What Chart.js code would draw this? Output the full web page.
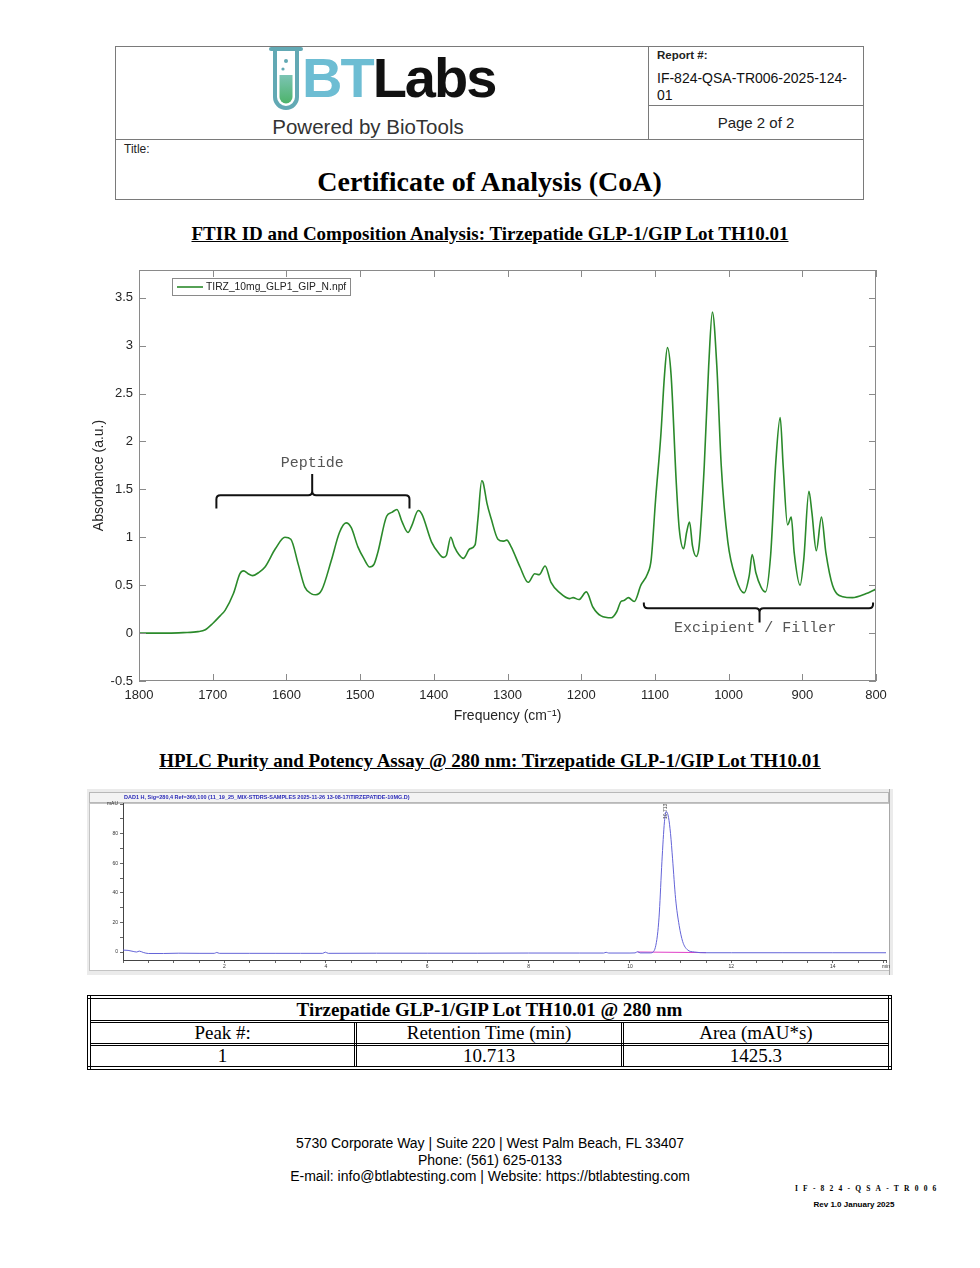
<!DOCTYPE html>
<html lang="en">
<head>
<meta charset="UTF-8" />
<title>Certificate of Analysis (CoA)</title>
<script src="https://cdn.jsdelivr.net/npm/chart.js@4.4.1/dist/chart.umd.min.js"></script>
<style>
  body { margin: 0; background: #fff; }
  #page { position: relative; width: 980px; height: 1268px; overflow: hidden;
          font-family: "Liberation Sans", Arial, sans-serif; color: #000; }
  .abs { position: absolute; }
  .line { position: absolute; background: #7a7a7a; }
  .serif { font-family: "Liberation Serif", "Times New Roman", serif; }
  .sect { left: 0; width: 980px; text-align: center; font-weight: bold; font-size: 19px;
          text-decoration: underline; line-height: 24px; }
  #coaTable { position: absolute; left: 87px; top: 995px; width: 805px; border-collapse: collapse;
              border: 4px double #000; font-family: "Liberation Serif", "Times New Roman", serif;
              font-size: 19px; }
  #coaTable td { border: 3px double #000; text-align: center; height: 20px; line-height: 20px; padding: 0; }
  .foot { left: 0; width: 980px; text-align: center; font-size: 14px; line-height: 16.5px; }
</style>
</head>
<body>
<div id="page">
  <!-- header box -->
  <div class="abs" style="left:115px;top:46px;width:749px;height:154px;border:1px solid #7a7a7a;box-sizing:border-box;"></div>
  <div class="line" style="left:648px;top:46px;width:1px;height:93px;"></div>
  <div class="line" style="left:115px;top:139px;width:749px;height:1px;"></div>
  <div class="line" style="left:648px;top:105px;width:216px;height:1px;"></div>

  <svg class="abs" style="left:268px;top:45px" width="36" height="68" viewBox="0 0 36 68">
    <defs>
      <linearGradient id="liq" x1="0" y1="0" x2="0" y2="1">
        <stop offset="0" stop-color="#7cc4b4" />
        <stop offset="1" stop-color="#4db36a" />
      </linearGradient>
    </defs>
    <path d="M7 4 L7 52 A11 11 0 0 0 29 52 L29 4" fill="none" stroke="#62a9b4" stroke-width="4" />
    <path d="M3 4 L33 4" stroke="#62a9b4" stroke-width="4" stroke-linecap="round" />
    <path d="M11.5 30 L11.5 52 A6.5 6.5 0 0 0 24.5 52 L24.5 30 Z" fill="url(#liq)" />
    <circle cx="18" cy="16" r="2" fill="#62a9b4" />
    <circle cx="15" cy="24" r="1.6" fill="#62a9b4" />
  </svg>
  <div class="abs" style="left:302px;top:50px;font-size:56px;line-height:56px;font-weight:bold;letter-spacing:-2px;white-space:nowrap;">
    <span style="color:#6dbdd3">BT</span><span style="color:#111">Labs</span>
  </div>
  <div class="abs" style="left:268px;top:115px;width:200px;text-align:center;font-size:20.5px;line-height:24px;color:#333;white-space:nowrap;">Powered by BioTools</div>

  <div class="abs" style="left:657px;top:48px;font-size:11.5px;line-height:14px;font-weight:bold;color:#222;">Report #:</div>
  <div class="abs" style="left:657px;top:70px;font-size:14px;line-height:17px;color:#111;">IF-824-QSA-TR006-2025-124-<br>01</div>
  <div class="abs" style="left:648px;top:113px;width:216px;text-align:center;font-size:15px;line-height:20px;color:#222;">Page 2 of 2</div>

  <div class="abs" style="left:124px;top:142px;font-size:12px;line-height:14px;color:#222;">Title:</div>
  <div class="abs serif" style="left:115px;top:165px;width:749px;text-align:center;font-size:28px;line-height:34px;font-weight:bold;">Certificate of Analysis (CoA)</div>

  <div class="abs sect serif" style="top:222px;">FTIR ID and Composition Analysis: Tirzepatide GLP-1/GIP Lot TH10.01</div>

  <canvas id="ftir" class="abs" style="left:80px;top:262px" width="810" height="475"></canvas>

  <div class="abs sect serif" style="top:749px;">HPLC Purity and Potency Assay @ 280 nm: Tirzepatide GLP-1/GIP Lot TH10.01</div>

  <canvas id="hplc" class="abs" style="left:87px;top:789px" width="806" height="186"></canvas>

  <table id="coaTable">
    <tr><td colspan="3" style="font-weight:bold;height:21px;">Tirzepatide GLP-1/GIP Lot TH10.01 @ 280 nm</td></tr>
    <tr><td style="width:33.3%">Peak #:</td><td style="width:33.3%">Retention Time (min)</td><td>Area (mAU*s)</td></tr>
    <tr><td>1</td><td>10.713</td><td>1425.3</td></tr>
  </table>

  <div class="abs foot" style="top:1135px;">5730 Corporate Way | Suite 220 | West Palm Beach, FL 33407<br>Phone: (561) 625-0133<br>E-mail: info@btlabtesting.com | Website: https://btlabtesting.com</div>
  <div class="abs serif" style="left:795px;top:1184px;font-size:7.5px;line-height:10px;font-weight:bold;letter-spacing:5.2px;white-space:nowrap;">IF-824-QSA-TR006</div>
  <div class="abs" style="left:805px;top:1200px;width:98px;text-align:center;font-size:8px;line-height:10px;font-weight:bold;white-space:nowrap;">Rev 1.0 January 2025</div>
</div>

<script>
  // FTIR spectrum (cm-1 / absorbance)
  const ftirWavenumber = [
    1800, 1780, 1760, 1740, 1720, 1710, 1700, 1690, 1683, 1672,
    1663, 1658, 1652, 1646, 1638, 1629, 1615, 1602, 1594, 1584,
    1575, 1566, 1560, 1552, 1539, 1528, 1519, 1512, 1503, 1495,
    1487, 1481, 1476, 1464, 1457, 1450, 1443, 1435, 1430, 1421,
    1416, 1403, 1393, 1387, 1383, 1377, 1372, 1366, 1360, 1351,
    1344, 1340, 1335, 1333, 1328, 1322, 1313, 1306, 1301, 1295,
    1283, 1272, 1263, 1257, 1249, 1241, 1229, 1216, 1211, 1203,
    1193, 1184, 1173, 1159, 1152, 1146, 1142, 1136, 1128, 1119,
    1110, 1105, 1099, 1092, 1087, 1083, 1078, 1071, 1067, 1061,
    1057, 1053, 1049, 1044, 1040, 1033, 1027, 1022, 1016, 1010,
    1001, 990, 979, 972, 968, 963, 956, 950, 943, 936,
    930, 926, 920, 915, 911, 903, 898, 891, 887, 881,
    874, 868, 859, 845, 832, 814, 800
  ]
  const ftirAbsorbance = [
    0.00, 0.00, 0.00, 0.005, 0.015, 0.035, 0.10, 0.18, 0.24, 0.41,
    0.62, 0.65, 0.62, 0.60, 0.63, 0.69, 0.88, 1.00, 0.98, 0.72,
    0.48, 0.41, 0.40, 0.45, 0.76, 1.05, 1.15, 1.10, 0.90, 0.78,
    0.69, 0.72, 0.84, 1.22, 1.26, 1.29, 1.16, 1.05, 1.12, 1.28,
    1.24, 0.95, 0.83, 0.79, 0.81, 1.00, 0.90, 0.82, 0.78, 0.88,
    0.92, 1.20, 1.59, 1.57, 1.36, 1.19, 0.98, 0.96, 0.97, 0.90,
    0.69, 0.53, 0.62, 0.61, 0.70, 0.53, 0.42, 0.36, 0.37, 0.35,
    0.43, 0.27, 0.18, 0.16, 0.22, 0.33, 0.34, 0.37, 0.33, 0.50,
    0.62, 0.77, 1.40, 2.06, 2.69, 2.98, 2.69, 1.57, 1.09, 0.88,
    1.05, 1.16, 0.91, 0.80, 0.91, 1.75, 2.79, 3.35, 2.79, 1.75,
    0.95, 0.57, 0.42, 0.60, 0.82, 0.63, 0.48, 0.43, 0.81, 1.78,
    2.25, 1.75, 1.13, 1.21, 0.84, 0.50, 0.77, 1.48, 1.26, 0.86,
    1.21, 0.84, 0.50, 0.38, 0.37, 0.41, 0.46
  ]
  const ftirLegendLabel = 'TIRZ_10mg_GLP1_GIP_N.npf'
  const ftirXTicks = [800, 900, 1000, 1100, 1200, 1300, 1400, 1500, 1600, 1700, 1800]
  const ftirYTicks = [-0.5, 0, 0.5, 1, 1.5, 2, 2.5, 3, 3.5]

  // HPLC chromatogram @ 280 nm (min / mAU)
  const hplcTime = [
    0, 0.1, 0.2, 0.27, 0.32, 0.4, 0.5, 0.8, 1.1, 1.5,
    1.8, 1.85, 1.9, 2.5, 3.0, 3.5, 3.94, 3.99, 4.05, 5.0,
    6.0, 7.0, 8.0, 9.0, 9.48, 9.53, 9.58, 10.0, 10.1, 10.15,
    10.2, 10.4, 10.47, 10.51, 10.55, 10.58, 10.63, 10.68, 10.713, 10.76,
    10.8, 10.84, 10.9, 10.97, 11.04, 11.13, 11.27, 11.5, 12, 13,
    14, 15.05
  ]
  const hplcSignal = [
    1.3, 1.1, 0.4, 0.0, 0.6, -0.3, -1.0, -1.0, -0.8, -0.9,
    -0.9, -0.3, -0.9, -0.9, -0.9, -0.9, -0.9, -0.1, -0.9, -0.8,
    -0.8, -0.8, -0.7, -0.7, -0.7, -0.2, -0.7, -0.7, -0.6, 0.2,
    -0.6, -0.6, 0.5, 4.5, 14, 27, 61, 88, 95, 91,
    80, 63, 36, 18, 7, 1.6, 0, -0.5, -0.5, -0.5,
    -0.5, -0.5
  ]
  const hplcBaselineTime = [10.15, 11.5]
  const hplcBaselineSignal = [0.0, -0.4]
  const hplcPeakRT = 10.713
  const hplcPeakLabel = '10.713'
  const hplcTitle = 'DAD1 H, Sig=280,4 Ref=360,100 (11_19_25_MIX-STDRS-SAMPLES 2025-11-26 13-08-17\\TIRZEPATIDE-10MG.D)'
  const hplcXTicks = []
  for (let i = 0; i <= 30; i++) hplcXTicks.push(i / 2)
  hplcXTicks.push(15.05)
  const hplcYTicks = [0, 10, 20, 30, 40, 50, 60, 70, 80, 90, 100]

  Chart.defaults.font.family = '"Liberation Sans", Arial, sans-serif'

  function drawBrace(ctx, x1, x2, xm, yLine, yEnd, yTip) {
    const r = 4
    const se = Math.sign(yEnd - yLine)
    const st = Math.sign(yTip - yLine)
    ctx.beginPath()
    ctx.moveTo(x1, yEnd)
    ctx.lineTo(x1, yLine + se * r)
    ctx.quadraticCurveTo(x1, yLine, x1 + r, yLine)
    ctx.lineTo(xm - r, yLine)
    ctx.quadraticCurveTo(xm, yLine, xm, yLine + st * r)
    ctx.lineTo(xm, yTip)
    ctx.moveTo(xm, yLine + st * r)
    ctx.quadraticCurveTo(xm, yLine, xm + r, yLine)
    ctx.lineTo(x2 - r, yLine)
    ctx.quadraticCurveTo(x2, yLine, x2, yLine + se * r)
    ctx.lineTo(x2, yEnd)
    ctx.stroke()
  }

  // no automatic padding for edge labels, so the plot box sits where the layout says
  function noEdgePadding(s) {
    s.paddingTop = 0
    s.paddingBottom = 0
    s.paddingLeft = 0
    s.paddingRight = 0
  }

  const ftirDecor = {
    id: 'ftirDecor',
    afterDatasetsDraw(chart) {
      const { ctx, chartArea: a, scales: { x, y } } = chart
      ctx.save()
      // box with inward ticks on all four sides
      ctx.strokeStyle = '#8a8a8a'
      ctx.lineWidth = 1
      ctx.strokeRect(a.left + 0.5, a.top + 0.5, a.width - 1, a.height - 1)
      const len = 7
      ctx.beginPath()
      ftirXTicks.forEach(v => {
        const px = Math.round(x.getPixelForValue(v)) + 0.5
        ctx.moveTo(px, a.bottom); ctx.lineTo(px, a.bottom - len)
        ctx.moveTo(px, a.top); ctx.lineTo(px, a.top + len)
      })
      ftirYTicks.forEach(v => {
        const py = Math.round(y.getPixelForValue(v)) + 0.5
        ctx.moveTo(a.left, py); ctx.lineTo(a.left + len, py)
        ctx.moveTo(a.right, py); ctx.lineTo(a.right - len, py)
      })
      ctx.stroke()

      // band braces and labels
      ctx.strokeStyle = '#111'
      ctx.lineWidth = 2
      drawBrace(ctx, x.getPixelForValue(1695), x.getPixelForValue(1433), x.getPixelForValue(1565),
        y.getPixelForValue(1.44), y.getPixelForValue(1.30), y.getPixelForValue(1.66))
      drawBrace(ctx, x.getPixelForValue(1115), x.getPixelForValue(804), x.getPixelForValue(958),
        y.getPixelForValue(0.26), y.getPixelForValue(0.32), y.getPixelForValue(0.11))
      ctx.fillStyle = '#555'
      ctx.font = '15px "Liberation Mono", "Courier New", monospace'
      ctx.textAlign = 'center'
      ctx.textBaseline = 'middle'
      ctx.fillText('Peptide', x.getPixelForValue(1565), y.getPixelForValue(1.77))
      ctx.fillText('Excipient / Filler', x.getPixelForValue(964), y.getPixelForValue(0.05))

      // legend box inside the axes
      const lx = a.left + 33, ly = a.top + 8
      ctx.fillStyle = '#fff'
      ctx.fillRect(lx, ly, 178, 17)
      ctx.strokeStyle = '#8a8a8a'
      ctx.lineWidth = 1
      ctx.strokeRect(lx + 0.5, ly + 0.5, 178, 17)
      ctx.strokeStyle = '#2b8a2b'
      ctx.lineWidth = 1.6
      ctx.beginPath()
      ctx.moveTo(lx + 5, ly + 9); ctx.lineTo(lx + 31, ly + 9)
      ctx.stroke()
      ctx.fillStyle = '#222'
      ctx.font = '10.3px "Liberation Sans", Arial, sans-serif'
      ctx.textAlign = 'left'
      ctx.fillText(ftirLegendLabel, lx + 34, ly + 9.5)
      ctx.restore()
    }
  }

  new Chart(document.getElementById('ftir'), {
    type: 'line',
    data: {
      datasets: [{
        label: ftirLegendLabel,
        data: ftirWavenumber.map((w, i) => ({ x: w, y: ftirAbsorbance[i] })),
        borderColor: '#2b8a2b',
        borderWidth: 1.6,
        pointRadius: 0,
        fill: false,
        cubicInterpolationMode: 'monotone',
      }],
    },
    options: {
      responsive: false,
      animation: false,
      layout: { padding: { left: 0, top: 8, right: 14, bottom: 0 } },
      plugins: { legend: { display: false }, tooltip: { enabled: false } },
      scales: {
        x: {
          type: 'linear',
          reverse: true,
          min: 800,
          max: 1800,
          afterBuildTicks: s => { s.ticks = ftirXTicks.map(v => ({ value: v })) },
          afterFit: s => { s.height = 56; noEdgePadding(s) },
          grid: { display: false, drawTicks: false },
          border: { display: false },
          ticks: { color: '#262626', font: { size: 13 }, padding: 7, maxRotation: 0, callback: v => String(v) },
          title: {
            display: true,
            text: 'Frequency (cm\u207B\u00B9)',
            color: '#262626',
            font: { size: 14 },
            padding: { top: 0, bottom: 12 },
          },
        },
        y: {
          min: -0.5,
          max: 3.79,
          afterBuildTicks: s => { s.ticks = ftirYTicks.map(v => ({ value: v })) },
          afterFit: s => { s.width = 59; noEdgePadding(s) },
          grid: { display: false, drawTicks: false },
          border: { display: false },
          ticks: { color: '#262626', font: { size: 13 }, padding: 6, callback: v => String(v) },
          title: {
            display: true,
            text: 'Absorbance (a.u.)',
            color: '#262626',
            font: { size: 14 },
            padding: { top: 11, bottom: 0 },
          },
        },
      },
    },
    plugins: [ftirDecor],
  })

  const hplcDecor = {
    id: 'hplcDecor',
    beforeDraw(chart) {
      const { ctx, width, height } = chart
      ctx.save()
      ctx.fillStyle = '#ebebeb'
      ctx.fillRect(0, 0, width, height)
      ctx.fillStyle = '#fff'
      ctx.fillRect(2, 14, width - 5, height - 18)
      ctx.strokeStyle = '#c4c4c4'
      ctx.lineWidth = 1
      ctx.strokeRect(2.5, 14.5, width - 6, height - 19)
      ctx.fillStyle = '#f3f3f3'
      ctx.fillRect(2, 3, width - 6, 10)
      ctx.strokeStyle = '#b8b8b8'
      ctx.strokeRect(2.5, 3.5, width - 7, 10)
      ctx.strokeStyle = '#a8a8a8'
      ctx.beginPath()
      ctx.moveTo(width - 3.5, 0); ctx.lineTo(width - 3.5, height)
      ctx.stroke()
      ctx.fillStyle = '#2a2ab8'
      ctx.font = 'bold 5.5px "Liberation Sans", Arial, sans-serif'
      ctx.textBaseline = 'middle'
      ctx.fillText(hplcTitle, 37, 8.5)
      ctx.restore()
    },
    afterDatasetsDraw(chart) {
      const { ctx, chartArea: a, scales: { x } } = chart
      ctx.save()
      ctx.translate(x.getPixelForValue(hplcPeakRT), a.top + 16)
      ctx.rotate(-Math.PI / 2)
      ctx.fillStyle = '#444'
      ctx.font = '5px "Liberation Sans", Arial, sans-serif'
      ctx.textAlign = 'left'
      ctx.textBaseline = 'middle'
      ctx.fillText(hplcPeakLabel, 0, 0)
      ctx.restore()
    }
  }

  new Chart(document.getElementById('hplc'), {
    type: 'line',
    data: {
      datasets: [{
        data: hplcTime.map((t, i) => ({ x: t, y: hplcSignal[i] })),
        borderColor: '#6464d8',
        borderWidth: 1,
        pointRadius: 0,
        cubicInterpolationMode: 'monotone',
      }, {
        data: hplcBaselineTime.map((t, i) => ({ x: t, y: hplcBaselineSignal[i] })),
        borderColor: '#e040c8',
        borderWidth: 1,
        pointRadius: 0,
      }],
    },
    options: {
      responsive: false,
      animation: false,
      layout: { padding: { left: 0, top: 14, right: 7, bottom: 0 } },
      plugins: { legend: { display: false }, tooltip: { enabled: false } },
      scales: {
        x: {
          type: 'linear',
          min: 0,
          max: 15.05,
          afterBuildTicks: s => { s.ticks = hplcXTicks.map(v => ({ value: v })) },
          afterFit: s => { s.height = 15; noEdgePadding(s) },
          grid: { drawOnChartArea: false, tickLength: 3, tickColor: '#666' },
          border: { display: true, color: '#444' },
          ticks: {
            color: '#333', font: { size: 5 }, padding: 1, maxRotation: 0, autoSkip: false,
            callback: v => (v === 15.05 ? 'min' : (v > 0 && v % 2 === 0 ? String(v) : '')),
          },
        },
        y: {
          min: -5.4,
          max: 100.7,
          afterBuildTicks: s => { s.ticks = hplcYTicks.map(v => ({ value: v })) },
          afterFit: s => { s.width = 36; noEdgePadding(s) },
          grid: { drawOnChartArea: false, tickLength: 3, tickColor: '#666' },
          border: { display: true, color: '#444' },
          ticks: {
            color: '#333', font: { size: 5 }, padding: 2, autoSkip: false,
            callback: v => (v === 100 ? 'mAU' : (v % 20 === 0 ? String(v) : '')),
          },
        },
      },
    },
    plugins: [hplcDecor],
  })
</script>
</body>
</html>
